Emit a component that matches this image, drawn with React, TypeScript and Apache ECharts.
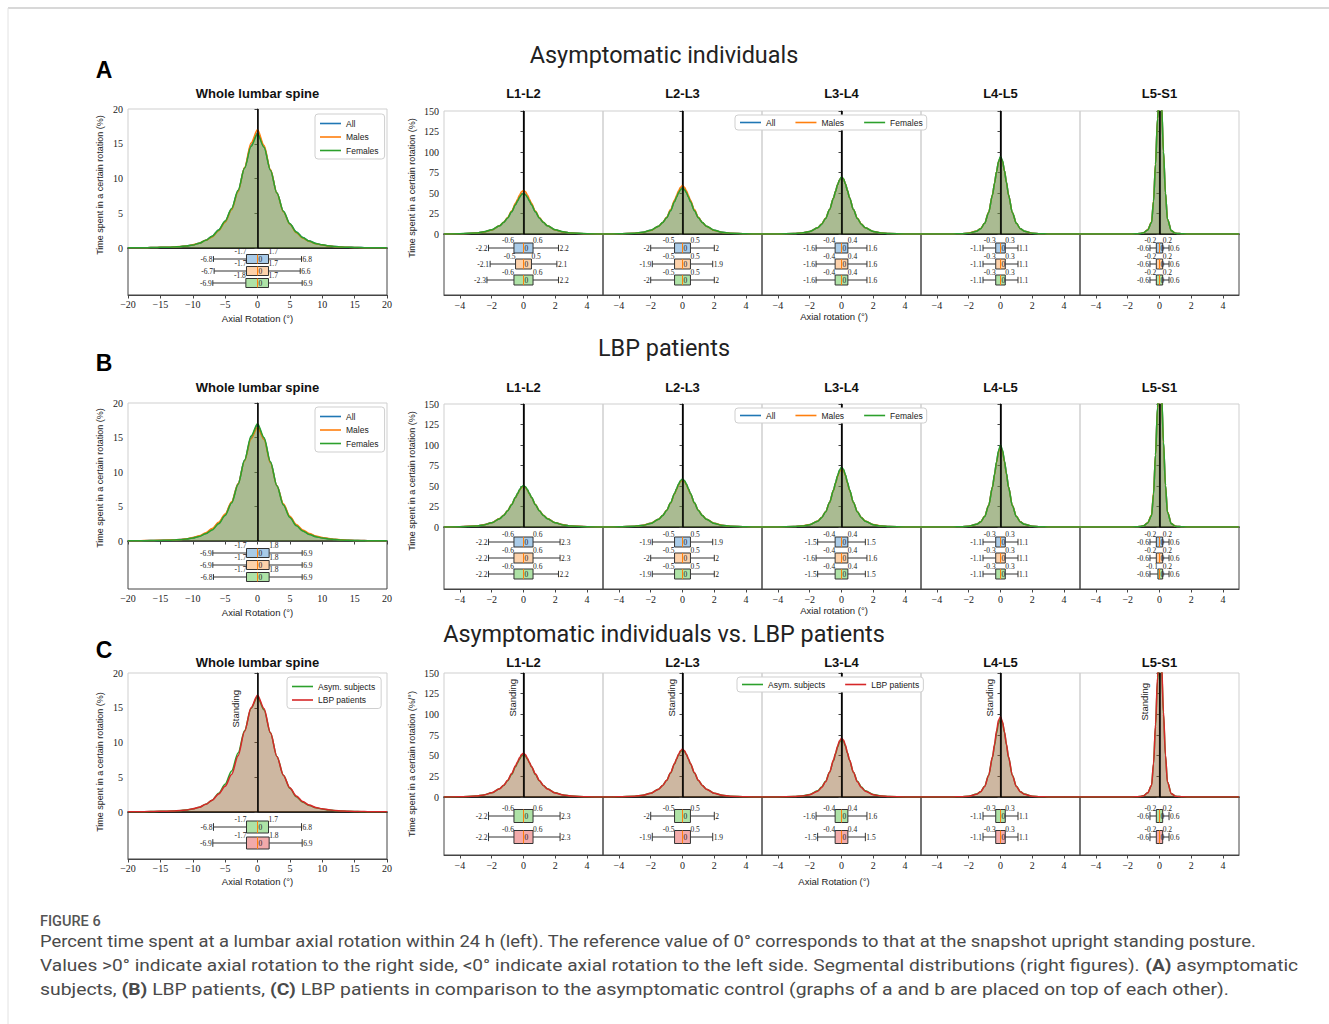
import React, { useEffect, useRef } from "react";
import * as echarts from "echarts";

// ---------------- DATA ----------------
const WHOLE_X = [-20,-19,-18,-17,-16,-15,-14,-13,-12,-11,-10,-9,-8,-7,-6,-5,-4,-3,-2,-1,0,1,2,3,4,5,6,7,8,9,10,11,12,13,14,15,16,17,18,19,20];
const SEG_X = [-5,-4,-3,-2.5,-2,-1.5,-1.25,-1,-0.75,-0.5,-0.375,-0.25,-0.125,0,0.125,0.25,0.375,0.5,0.75,1,1.25,1.5,2,2.5,3,4,5];
const SEG_TICKS = [-4,-2,0,2,4];
const SEG_NAMES = ["L1-L2","L2-L3","L3-L4","L4-L5","L5-S1"];
const GROUPS_AB = ["All","Males","Females"];
const GROUPS_C = ["Asym. subjects","LBP patients"];

// Row A – asymptomatic individuals
const A_WHOLE_ALL = [0.02,0.03,0.04,0.05,0.07,0.09,0.11,0.14,0.19,0.28,0.42,0.68,1.1,1.7,2.6,3.8,5.6,8.2,11.5,14.8,16.6,14.6,11.2,7.9,5.3,3.5,2.3,1.5,1.0,0.65,0.45,0.3,0.2,0.15,0.1,0.08,0.06,0.04,0.03,0.02,0.02];
const A_WHOLE_MALES = [0.02,0.03,0.04,0.05,0.07,0.09,0.11,0.14,0.2,0.3,0.45,0.7,1.1,1.6,2.5,3.7,5.5,8.1,11.6,15.1,17.0,14.8,11.3,7.9,5.2,3.4,2.2,1.4,0.95,0.62,0.42,0.28,0.19,0.14,0.1,0.07,0.05,0.04,0.03,0.02,0.02];
const A_WHOLE_FEMALES = [0.02,0.03,0.04,0.05,0.07,0.09,0.11,0.14,0.19,0.28,0.42,0.7,1.1,1.7,2.6,3.9,5.7,8.3,11.5,14.6,16.4,14.5,11.2,7.9,5.3,3.5,2.3,1.5,1.0,0.66,0.46,0.31,0.21,0.15,0.1,0.08,0.06,0.04,0.03,0.02,0.02];
const A_L1L2_ALL = [0,0.3,1.2,2.5,5,10,14,19.5,27,36,40.5,45,48.5,50,48.5,45,40.5,36,27,19.5,14,10,5,2.5,1.2,0.3,0];
const A_L1L2_MALES = [0,0.3,1.1,2.4,4.9,10,14.2,20,28,37.5,42.5,47.5,51.5,53,51.5,47.5,42.5,37.5,28,20,14.2,10,4.9,2.4,1.1,0.3,0];
const A_L1L2_FEMALES = [0,0.3,1.3,2.6,5.2,10.2,14.2,19.6,27,35.8,40.2,44.6,48,49.5,48,44.6,40.2,35.8,27,19.6,14.2,10.2,5.2,2.6,1.3,0.3,0];
const A_L2L3_ALL = [0,0.2,1,2,4.5,9.5,14,20,29,40,45.5,51,55,57,55,51,45.5,40,29,20,14,9.5,4.5,2,1,0.2,0];
const A_L2L3_MALES = [0,0.2,0.9,1.9,4.4,9.4,14,20.3,29.8,41.2,47,52.8,57,59,57,52.8,47,41.2,29.8,20.3,14,9.4,4.4,1.9,0.9,0.2,0];
const A_L2L3_FEMALES = [0,0.2,1,2.1,4.6,9.6,14,19.8,28.5,39.3,44.8,50.2,54,56,54,50.2,44.8,39.3,28.5,19.8,14,9.6,4.6,2.1,1,0.2,0];
const A_L3L4_ALL = [0,0.1,0.5,1.2,3,7.5,12,19,30,44,52,60,66,69,67,61,53,44.5,30,19,12,7.5,3,1.2,0.5,0.1,0];
const A_L3L4_MALES = [0,0.1,0.5,1.2,3.1,7.6,12.2,19.2,30,44,52,60,66,69,67,61,53,44.5,30,19.2,12.1,7.5,3,1.2,0.5,0.1,0];
const A_L3L4_FEMALES = [0,0.1,0.5,1.2,3,7.5,12,19,30,44,52,60,66,69.5,67.5,61,53,44.5,30,19,12,7.5,3,1.2,0.5,0.1,0];
const A_L4L5_ALL = [0,0,0.1,0.3,1,3.5,6.5,13,26,48,62,76,88,94,89,77,63,48,26,13,6.5,3.5,1,0.3,0.1,0,0];
const A_L4L5_MALES = [0,0,0.1,0.3,1.1,3.6,6.7,13.2,26.5,48,62,76,88,93,88.5,77,63,48,26,13,6.5,3.4,1,0.3,0.1,0,0];
const A_L4L5_FEMALES = [0,0,0.1,0.3,1,3.5,6.5,13,26,48,62,76,88.5,94.5,89.5,77,63,48,26,13,6.5,3.5,1,0.3,0.1,0,0];
const A_L5S1_ALL = [0,0,0,0,0.1,0.2,0.5,1.5,5,14,40,85,140,175,160,100,50,18,4,1,0.5,0.2,0.1,0,0,0,0];
const A_L5S1_MALES = [0,0,0,0,0.1,0.2,0.5,1.6,5.2,14.5,41,86,140,174,159,100,50,18,4,1,0.5,0.2,0.1,0,0,0,0];
const A_L5S1_FEMALES = [0,0,0,0,0.1,0.2,0.5,1.5,5,14,40,85,141,176,161,101,50,18,4,1,0.5,0.2,0.1,0,0,0,0];

// box stats: [min, Q1, median, Q3, max] for All, Males, Females
const A_BOX_WHOLE = [[-6.8,-1.7,0,1.7,6.8],[-6.7,-1.7,0,1.7,6.6],[-6.9,-1.8,0,1.7,6.9]];
const A_BOX_L1L2 = [[-2.2,-0.6,0,0.6,2.2],[-2.1,-0.5,0,0.5,2.1],[-2.3,-0.6,0,0.6,2.2]];
const A_BOX_L2L3 = [[-2,-0.5,0,0.5,2],[-1.9,-0.5,0,0.5,1.9],[-2,-0.5,0,0.5,2]];
const A_BOX_L3L4 = [[-1.6,-0.4,0,0.4,1.6],[-1.6,-0.4,0,0.4,1.6],[-1.6,-0.4,0,0.4,1.6]];
const A_BOX_L4L5 = [[-1.1,-0.3,0,0.3,1.1],[-1.1,-0.3,0,0.3,1.1],[-1.1,-0.3,0,0.3,1.1]];
const A_BOX_L5S1 = [[-0.6,-0.2,0,0.2,0.6],[-0.6,-0.2,0,0.2,0.6],[-0.6,-0.2,0,0.2,0.6]];

// Row B – LBP patients
const B_WHOLE_ALL = [0.02,0.03,0.04,0.06,0.08,0.1,0.12,0.15,0.2,0.3,0.45,0.7,1.1,1.7,2.6,3.8,5.6,8.3,11.7,15.0,16.8,14.9,11.4,8.0,5.3,3.5,2.3,1.5,1.0,0.66,0.46,0.32,0.22,0.16,0.11,0.08,0.06,0.05,0.03,0.02,0.02];
const B_WHOLE_MALES = [0.02,0.03,0.05,0.06,0.09,0.1,0.14,0.16,0.22,0.32,0.5,0.75,1.2,1.8,2.7,3.9,5.7,8.3,11.6,14.8,16.5,14.7,11.3,8.0,5.4,3.6,2.4,1.6,1.1,0.72,0.5,0.35,0.24,0.18,0.12,0.09,0.07,0.05,0.04,0.03,0.02];
const B_WHOLE_FEMALES = [0.02,0.03,0.04,0.05,0.07,0.09,0.11,0.14,0.19,0.28,0.42,0.66,1.05,1.6,2.5,3.7,5.5,8.2,11.7,15.2,17.0,15.0,11.5,8.0,5.2,3.4,2.2,1.45,0.95,0.63,0.43,0.3,0.2,0.14,0.1,0.07,0.05,0.04,0.03,0.02,0.02];
const B_L1L2_ALL = [0,0.3,1.3,2.6,5.2,10.2,14.2,19.8,27.2,36,40.5,45,48.5,50,48.5,45,40.5,36,27.2,19.8,14.2,10.2,5.2,2.6,1.3,0.3,0];
const B_L1L2_MALES = [0,0.3,1.3,2.7,5.3,10.4,14.4,20,27.3,36,40.3,44.7,48,49.5,48,44.7,40.3,36,27.3,20,14.4,10.4,5.3,2.7,1.3,0.3,0];
const B_L1L2_FEMALES = [0,0.3,1.2,2.5,5.1,10.1,14.1,19.7,27.2,36.2,40.8,45.4,49,50.5,49,45.4,40.8,36.2,27.2,19.7,14.1,10.1,5.1,2.5,1.2,0.3,0];
const B_L2L3_ALL = [0,0.2,1,2,4.5,9.5,14,20.2,29.4,40.6,46.2,51.8,56,58,56,51.8,46.2,40.6,29.4,20.2,14,9.5,4.5,2,1,0.2,0];
const B_L2L3_MALES = [0,0.2,1,2.1,4.6,9.6,14.1,20.3,29.3,40.3,45.8,51.3,55.5,57.5,55.5,51.3,45.8,40.3,29.3,20.3,14.1,9.6,4.6,2.1,1,0.2,0];
const B_L2L3_FEMALES = [0,0.2,0.9,1.9,4.4,9.4,13.9,20.1,29.5,40.9,46.6,52.3,56.5,58.5,56.5,52.3,46.6,40.9,29.5,20.1,13.9,9.4,4.4,1.9,0.9,0.2,0];
const B_L3L4_ALL = [0,0.1,0.5,1.1,2.8,7,11.5,18.5,30,45,53.5,62,68.5,72,69.5,63,54,45.5,30,18.5,11.5,7,2.8,1.1,0.5,0.1,0];
const B_L3L4_MALES = [0,0.1,0.5,1.2,2.9,7.2,11.7,18.7,30,45,53,61.5,67.5,71,68.5,62.5,53.5,45,30,18.7,11.7,7.2,2.9,1.2,0.5,0.1,0];
const B_L3L4_FEMALES = [0,0.1,0.5,1.1,2.8,7,11.4,18.4,30,45.2,54,62.5,69.5,73,70.5,63.5,54.5,45.7,30,18.4,11.4,7,2.8,1.1,0.5,0.1,0];
const B_L4L5_ALL = [0,0,0.1,0.3,1,3.3,6.3,12.8,26,49,64,79,92,99,93,80,65,49,26,12.8,6.3,3.3,1,0.3,0.1,0,0];
const B_L4L5_MALES = [0,0,0.1,0.3,1,3.4,6.4,13,26.2,49,63.5,78.5,91,98,92,79.5,64.5,49,26.2,13,6.4,3.4,1,0.3,0.1,0,0];
const B_L4L5_FEMALES = [0,0,0.1,0.3,1,3.3,6.2,12.7,25.8,49,64.5,79.5,93,100,94,80.5,65.5,49,25.8,12.7,6.2,3.3,1,0.3,0.1,0,0];
const B_L5S1_ALL = [0,0,0,0,0.1,0.2,0.5,1.5,5,14,41,88,145,180,165,103,51,18,4,1,0.5,0.2,0.1,0,0,0,0];
const B_L5S1_MALES = [0,0,0,0,0.1,0.2,0.5,1.6,5.2,14.5,42,88,144,178,163,102,51,18.5,4.2,1,0.5,0.2,0.1,0,0,0,0];
const B_L5S1_FEMALES = [0,0,0,0,0.1,0.2,0.5,1.5,4.9,13.8,40,88,146,182,166,104,51,18,4,1,0.5,0.2,0.1,0,0,0,0];

const B_BOX_WHOLE = [[-6.9,-1.7,0,1.8,6.9],[-6.9,-1.7,0,1.8,6.9],[-6.8,-1.7,0,1.8,6.9]];
const B_BOX_L1L2 = [[-2.2,-0.6,0,0.6,2.3],[-2.2,-0.6,0,0.6,2.3],[-2.2,-0.6,0,0.6,2.2]];
const B_BOX_L2L3 = [[-1.9,-0.5,0,0.5,1.9],[-2,-0.5,0,0.5,2],[-1.9,-0.5,0,0.5,2]];
const B_BOX_L3L4 = [[-1.5,-0.4,0,0.4,1.5],[-1.6,-0.4,0,0.4,1.6],[-1.5,-0.4,0,0.4,1.5]];
const B_BOX_L4L5 = [[-1.1,-0.3,0,0.3,1.1],[-1.1,-0.3,0,0.3,1.1],[-1.1,-0.3,0,0.3,1.1]];
const B_BOX_L5S1 = [[-0.6,-0.2,0,0.2,0.6],[-0.6,-0.2,0,0.2,0.6],[-0.6,-0.1,0,0.2,0.6]];

// Row C – asymptomatic vs LBP
const C_WHOLE_ASYM = [0.02,0.03,0.04,0.05,0.07,0.09,0.11,0.14,0.19,0.28,0.42,0.68,1.1,1.7,2.7,4.0,5.9,8.5,11.7,14.9,16.6,14.7,11.4,8.0,5.3,3.4,2.2,1.4,0.95,0.62,0.42,0.28,0.19,0.14,0.1,0.07,0.05,0.04,0.03,0.02,0.02];
const C_WHOLE_LBP = [0.02,0.03,0.04,0.06,0.08,0.1,0.12,0.15,0.2,0.3,0.45,0.7,1.1,1.7,2.6,3.7,5.4,8.1,11.6,15.0,16.8,14.9,11.4,8.0,5.3,3.5,2.3,1.5,1.0,0.66,0.46,0.32,0.22,0.16,0.11,0.08,0.06,0.05,0.03,0.02,0.02];
const C_L1L2_ASYM = [0,0.3,1.2,2.5,5,10,14,19.7,27.3,36.5,41.2,45.8,49.5,51,49.5,45.8,41.2,36.5,27.3,19.7,14,10,5,2.5,1.2,0.3,0];
const C_L1L2_LBP = [0,0.3,1.2,2.5,5.1,10.1,14.2,20.2,28.3,37.7,42.6,47.4,51.3,53,51,46.8,41.8,37,28,20,14,9.8,4.8,2.3,1.1,0.2,0];
const C_L2L3_ASYM = [0,0.2,1,2,4.5,9.5,14,20,29,40,45.5,51,55,57,55,51,45.5,40,29,20,14,9.5,4.5,2,1,0.2,0];
const C_L2L3_LBP = [0,0.2,1,2,4.5,9.5,14,20.2,29.4,40.6,46.2,51.8,56,58,56,51.8,46.2,40.6,29.4,20.2,14,9.5,4.5,2,1,0.2,0];
const C_L3L4_ASYM = [0,0.1,0.5,1.2,3,7.5,12,19,30,44,52,60,66.5,69.5,67.5,61,53,44.5,30,19,12,7.5,3,1.2,0.5,0.1,0];
const C_L3L4_LBP = [0,0.1,0.5,1.1,2.8,7,11.5,18.5,30,45,53,61.5,68,71,69,62.5,53.5,45,30,18.5,11.5,7,2.8,1.1,0.5,0.1,0];
const C_L4L5_ASYM = [0,0,0.1,0.3,1,3.5,6.5,13,26,48,62,77,89,95,90,78,63,48,26,13,6.5,3.5,1,0.3,0.1,0,0];
const C_L4L5_LBP = [0,0,0.1,0.3,1,3.3,6.3,12.8,26,49,64,80,93,97,91,79,64,49,26,12.8,6.3,3.3,1,0.3,0.1,0,0];
const C_L5S1_ASYM = [0,0,0,0,0.1,0.2,0.5,1.5,5,14,40,85,140,175,160,100,50,18,4,1,0.5,0.2,0.1,0,0,0,0];
const C_L5S1_LBP = [0,0,0,0,0.1,0.2,0.5,1.5,5,14,41,88,145,180,165,103,51,18,4,1,0.5,0.2,0.1,0,0,0,0];

const C_BOX_WHOLE = [[-6.8,-1.7,0,1.7,6.8],[-6.9,-1.7,0,1.8,6.9]];
const C_BOX_L1L2 = [[-2.2,-0.6,0,0.6,2.3],[-2.2,-0.6,0,0.6,2.3]];
const C_BOX_L2L3 = [[-2,-0.5,0,0.5,2],[-1.9,-0.5,0,0.5,1.9]];
const C_BOX_L3L4 = [[-1.6,-0.4,0,0.4,1.6],[-1.5,-0.4,0,0.4,1.5]];
const C_BOX_L4L5 = [[-1.1,-0.3,0,0.3,1.1],[-1.1,-0.3,0,0.3,1.1]];
const C_BOX_L5S1 = [[-0.6,-0.2,0,0.2,0.6],[-0.6,-0.2,0,0.2,0.6]];

const CAPTION_TITLE = "FIGURE 6";
const CAPTION_1 = "Percent time spent at a lumbar axial rotation within 24 h (left). The reference value of 0° corresponds to that at the snapshot upright standing posture.";
const CAPTION_2A = "Values >0° indicate axial rotation to the right side, <0° indicate axial rotation to the left side. Segmental distributions (right figures). ";
const CAPTION_2B = " asymptomatic";
const CAPTION_3A = "subjects, ";
const CAPTION_3B = " LBP patients, ";
const CAPTION_3C = " LBP patients in comparison to the asymptomatic control (graphs of a and b are placed on top of each other).";

// ---------------- STYLE / LAYOUT ----------------
const SANS = '"Liberation Sans", Arial, sans-serif';
const SERIF = '"Liberation Serif", "Times New Roman", serif';
const CAP_FONT = 'Roboto, "Noto Sans", sans-serif';
const COL_ALL = "#1f77b4";
const COL_MALES = "#ff7f0e";
const COL_FEMALES = "#2ca02c";
const COL_LBP = "#d62728";
const FILL_BLUE = "#a9cbe8";
const FILL_ORANGE = "#fcd1aa";
const FILL_GREEN = "#aee2a6";
const FILL_RED = "#f2aaaa";

const WHOLE_LEFT = 128, WHOLE_W = 259;
const SEG_LEFT = 444, SEG_W = 159;

const ROWS = [
  {
    letter: "A", main: "Asymptomatic individuals", groups: GROUPS_AB,
    colors: [COL_ALL, COL_MALES, COL_FEMALES], fills: [FILL_BLUE, FILL_ORANGE, FILL_GREEN],
    whole: [A_WHOLE_ALL, A_WHOLE_MALES, A_WHOLE_FEMALES], wholeBox: A_BOX_WHOLE,
    seg: [[A_L1L2_ALL, A_L1L2_MALES, A_L1L2_FEMALES],[A_L2L3_ALL, A_L2L3_MALES, A_L2L3_FEMALES],[A_L3L4_ALL, A_L3L4_MALES, A_L3L4_FEMALES],[A_L4L5_ALL, A_L4L5_MALES, A_L4L5_FEMALES],[A_L5S1_ALL, A_L5S1_MALES, A_L5S1_FEMALES]],
    segBox: [A_BOX_L1L2, A_BOX_L2L3, A_BOX_L3L4, A_BOX_L4L5, A_BOX_L5S1],
    standing: false, segXLabel: "Axial rotation (°)", segYLabel: "Time spent in a certain rotation (%)",
    L: { mainY: 55, letterY: 70, subY: 93, wTop: 109, wZero: 248, wBot: 295, wBox0: 259, wStep: 12, wBoxH: 9,
         sTop: 111, sZero: 234, sBot: 295, sBox0: 248, sStep: 16, sBoxH: 10, wXLabY: 318, sXLabY: 316, wYLabY: 185, sYLabY: 188,
         wLegend: [315, 114], sLegend: [735, 115] },
  },
  {
    letter: "B", main: "LBP patients", groups: GROUPS_AB,
    colors: [COL_ALL, COL_MALES, COL_FEMALES], fills: [FILL_BLUE, FILL_ORANGE, FILL_GREEN],
    whole: [B_WHOLE_ALL, B_WHOLE_MALES, B_WHOLE_FEMALES], wholeBox: B_BOX_WHOLE,
    seg: [[B_L1L2_ALL, B_L1L2_MALES, B_L1L2_FEMALES],[B_L2L3_ALL, B_L2L3_MALES, B_L2L3_FEMALES],[B_L3L4_ALL, B_L3L4_MALES, B_L3L4_FEMALES],[B_L4L5_ALL, B_L4L5_MALES, B_L4L5_FEMALES],[B_L5S1_ALL, B_L5S1_MALES, B_L5S1_FEMALES]],
    segBox: [B_BOX_L1L2, B_BOX_L2L3, B_BOX_L3L4, B_BOX_L4L5, B_BOX_L5S1],
    standing: false, segXLabel: "Axial rotation (°)", segYLabel: "Time spent in a certain rotation (%)",
    L: { mainY: 348, letterY: 363, subY: 387, wTop: 403, wZero: 541, wBot: 589, wBox0: 553, wStep: 12, wBoxH: 9,
         sTop: 404, sZero: 527, sBot: 589, sBox0: 542, sStep: 16, sBoxH: 10, wXLabY: 612, sXLabY: 610, wYLabY: 478, sYLabY: 481,
         wLegend: [315, 407], sLegend: [735, 408] },
  },
  {
    letter: "C", main: "Asymptomatic individuals vs. LBP patients", groups: GROUPS_C,
    colors: [COL_FEMALES, COL_LBP], fills: [FILL_GREEN, FILL_RED],
    whole: [C_WHOLE_ASYM, C_WHOLE_LBP], wholeBox: C_BOX_WHOLE,
    seg: [[C_L1L2_ASYM, C_L1L2_LBP],[C_L2L3_ASYM, C_L2L3_LBP],[C_L3L4_ASYM, C_L3L4_LBP],[C_L4L5_ASYM, C_L4L5_LBP],[C_L5S1_ASYM, C_L5S1_LBP]],
    segBox: [C_BOX_L1L2, C_BOX_L2L3, C_BOX_L3L4, C_BOX_L4L5, C_BOX_L5S1],
    standing: true, segXLabel: "Axial Rotation (°)", segYLabel: "Time spent in a certain rotation (%/°)",
    L: { mainY: 634, letterY: 650, subY: 662, wTop: 673, wZero: 812, wBot: 859, wBox0: 827, wStep: 16, wBoxH: 12,
         sTop: 673, sZero: 797, sBot: 855, sBox0: 816, sStep: 21, sBoxH: 13, wXLabY: 881, sXLabY: 881, wYLabY: 762, sYLabY: 764,
         wLegend: [287, 677], sLegend: [737, 677] },
  },
];

const fmtMinus = (v: number) => (v < 0 ? "\u2212" + Math.abs(v) : String(v));

function boxRenderer(boxH: number, fills: string[]) {
  return (params: any, api: any) => {
    const row = api.value(0);
    const vals = [api.value(1), api.value(2), api.value(3), api.value(4), api.value(5)];
    const fill = fills[api.value(6)];
    const p = vals.map((v) => api.coord([v, row]));
    const y = p[0][1];
    const h = boxH;
    const cap = h * 0.32;
    const lbl = '7.5px ' + SERIF;
    const stroke = { stroke: "#333", lineWidth: 1 };
    return {
      type: "group",
      children: [
        { type: "line", shape: { x1: p[0][0], y1: y, x2: p[1][0], y2: y }, style: stroke },
        { type: "line", shape: { x1: p[3][0], y1: y, x2: p[4][0], y2: y }, style: stroke },
        { type: "line", shape: { x1: p[0][0], y1: y - cap, x2: p[0][0], y2: y + cap }, style: stroke },
        { type: "line", shape: { x1: p[4][0], y1: y - cap, x2: p[4][0], y2: y + cap }, style: stroke },
        { type: "rect", shape: { x: p[1][0], y: y - h / 2, width: p[3][0] - p[1][0], height: h }, style: { fill, stroke: "#333", lineWidth: 1 } },
        { type: "line", shape: { x1: p[2][0], y1: y - h / 2, x2: p[2][0], y2: y + h / 2 }, style: { stroke: "#ff7f0e", lineWidth: 1 } },
        { type: "text", x: p[0][0] - 1, y: y + 0.5, style: { text: String(vals[0]), font: lbl, fill: "#222", align: "right", verticalAlign: "middle" } },
        { type: "text", x: p[4][0] + 1, y: y + 0.5, style: { text: String(vals[4]), font: lbl, fill: "#222", align: "left", verticalAlign: "middle" } },
        { type: "text", x: p[1][0], y: y - 3.8, style: { text: String(vals[1]), font: lbl, fill: "#222", align: "right", verticalAlign: "bottom" } },
        { type: "text", x: p[3][0], y: y - 3.8, style: { text: String(vals[3]), font: lbl, fill: "#222", align: "left", verticalAlign: "bottom" } },
        { type: "text", x: p[2][0] + 1, y, style: { text: String(vals[2]), font: lbl, fill: "#222", align: "left", verticalAlign: "middle" } },
      ],
    };
  };
}

function buildOption() {
  const grid: any[] = [], xAxis: any[] = [], yAxis: any[] = [], series: any[] = [], legend: any[] = [], graphic: any[] = [];
  const addPanel = (left: number, width: number, top: number, height: number, border: string) => {
    grid.push({ left, top, width, height, show: true, borderColor: border, borderWidth: 1, containLabel: false });
    return grid.length - 1;
  };
  const lineSeries = (name: string, xs: number[], ys: number[], color: string, gi: number, z: number) => ({
    type: "line", name, xAxisIndex: gi, yAxisIndex: gi, data: xs.map((x, i) => [x, ys[i]]),
    showSymbol: false, symbol: "none", smooth: 0.3, smoothMonotone: "x", silent: true, z,
    lineStyle: { color, width: 1.5 }, itemStyle: { color }, areaStyle: { color, opacity: 0.25 },
  });
  const zeroLine = (standing: boolean, dist: number) => ({
    silent: true, symbol: ["none", "none"], animation: false,
    lineStyle: { color: "#000", width: 1.5, type: "solid" },
    label: { show: standing, formatter: "Standing", position: "insideEndTop", fontSize: 9.5, fontFamily: SANS, color: "#222", distance: dist },
    data: [{ xAxis: 0 }],
  });
  const boxSeries = (boxes: number[][], gi: number, boxH: number, fills: string[]) => ({
    type: "custom", xAxisIndex: gi, yAxisIndex: gi, silent: true, clip: false, z: 5,
    data: boxes.map((b, i) => [i + 1, b[0], b[1], b[2], b[3], b[4], i]),
    renderItem: boxRenderer(boxH, fills),
  });
  const legendCommon = {
    icon: "rect", itemWidth: 21, itemHeight: 1.6, selectedMode: false, backgroundColor: "#fff",
    borderColor: "#cfcfcf", borderWidth: 1, borderRadius: 3, z: 30,
    textStyle: { fontSize: 8.5, fontFamily: SANS, color: "#222" },
  };

  ROWS.forEach((R) => {
    const L = R.L;
    // ---- whole lumbar spine: upper KDE ----
    const gU = addPanel(WHOLE_LEFT, WHOLE_W, L.wTop, L.wZero - L.wTop, "#cfcfcf");
    xAxis.push({ gridIndex: gU, type: "value", min: -20, max: 20, interval: 5, axisLabel: { show: false }, axisTick: { show: false }, splitLine: { show: false }, axisLine: { show: true, onZero: false, lineStyle: { color: "#000", width: 1.5 } } });
    yAxis.push({ gridIndex: gU, type: "value", min: 0, max: 20, interval: 5, splitLine: { show: false },
      axisLine: { show: true, lineStyle: { color: "#444" } }, axisTick: { show: true, length: 3, lineStyle: { color: "#444" } },
      axisLabel: { fontFamily: SERIF, fontSize: 10, color: "#222", margin: 5 } });
    R.whole.forEach((ys, k) => {
      const s: any = lineSeries(R.groups[k], WHOLE_X, ys, R.colors[k], gU, 2 + k);
      if (k === R.whole.length - 1) s.markLine = zeroLine(R.standing, 17);
      series.push(s);
    });
    // ---- whole lumbar spine: lower boxplots ----
    const gL = addPanel(WHOLE_LEFT, WHOLE_W, L.wZero, L.wBot - L.wZero, "#444");
    const wa = 1 - (L.wBox0 - L.wZero) / L.wStep;
    xAxis.push({ gridIndex: gL, type: "value", min: -20, max: 20, interval: 5, splitLine: { show: false },
      axisLine: { show: true, lineStyle: { color: "#444" } }, axisTick: { show: true, length: 3.5, lineStyle: { color: "#444" } },
      axisLabel: { fontFamily: SERIF, fontSize: 10, color: "#222", margin: 4, formatter: fmtMinus } });
    yAxis.push({ gridIndex: gL, type: "value", show: false, inverse: true, min: wa, max: wa + (L.wBot - L.wZero) / L.wStep });
    series.push(boxSeries(R.wholeBox, gL, L.wBoxH, R.fills));

    // ---- segments ----
    SEG_NAMES.forEach((name, si) => {
      const left = SEG_LEFT + si * SEG_W;
      const sU = addPanel(left, SEG_W, L.sTop, L.sZero - L.sTop, "#cfcfcf");
      xAxis.push({ gridIndex: sU, type: "value", min: -5, max: 5, axisLabel: { show: false }, axisTick: { show: false }, splitLine: { show: false }, axisLine: { show: true, onZero: false, lineStyle: { color: "#000", width: 1.5 } } });
      yAxis.push({ gridIndex: sU, type: "value", min: 0, max: 150, interval: 25, splitLine: { show: false },
        axisLine: { show: true, lineStyle: { color: "#111", width: 1.2 } }, axisTick: { show: true, length: 3, lineStyle: { color: "#444" } },
        axisLabel: { show: si === 0, fontFamily: SERIF, fontSize: 10, color: "#222", margin: 5 } });
      R.seg[si].forEach((ys, k) => {
        const s: any = lineSeries(R.groups[k], SEG_X, ys, R.colors[k], sU, 2 + k);
        if (k === R.seg[si].length - 1) s.markLine = zeroLine(R.standing && si !== 2, si === 4 ? 10 : 6);
        series.push(s);
      });
      const sL = addPanel(left, SEG_W, L.sZero, L.sBot - L.sZero, "#444");
      const sa = 1 - (L.sBox0 - L.sZero) / L.sStep;
      xAxis.push({ gridIndex: sL, type: "value", min: -5, max: 5, splitLine: { show: false },
        axisLine: { show: true, lineStyle: { color: "#444" } },
        axisTick: { show: true, length: 3.5, lineStyle: { color: "#444" }, customValues: SEG_TICKS },
        axisLabel: { fontFamily: SERIF, fontSize: 10, color: "#222", margin: 5, formatter: fmtMinus, customValues: SEG_TICKS } });
      yAxis.push({ gridIndex: sL, type: "value", show: false, inverse: true, min: sa, max: sa + (L.sBot - L.sZero) / L.sStep });
      series.push(boxSeries(R.segBox[si], sL, L.sBoxH, R.fills));

      graphic.push({ type: "text", x: left + SEG_W / 2, y: L.subY, style: { text: name, font: "bold 13px " + SANS, fill: "#111", align: "center", verticalAlign: "middle" } });
    });

    // ---- legends ----
    legend.push({ ...legendCommon, data: R.groups, orient: "vertical", left: L.wLegend[0], top: L.wLegend[1], itemGap: 4.5, padding: [5, 6, 4, 5] });
    legend.push({ ...legendCommon, data: R.groups, orient: "horizontal", left: L.sLegend[0], top: L.sLegend[1], itemGap: 20, padding: [3, 4, 3, 5] });

    // ---- texts ----
    graphic.push({ type: "text", x: 664, y: L.mainY, style: { text: R.main, font: "23.4px " + CAP_FONT, fill: "#222", align: "center", verticalAlign: "middle" } });
    graphic.push({ type: "text", x: 104, y: L.letterY, style: { text: R.letter, font: "bold 23px " + SANS, fill: "#000", align: "center", verticalAlign: "middle" } });
    graphic.push({ type: "text", x: WHOLE_LEFT + WHOLE_W / 2, y: L.subY, style: { text: "Whole lumbar spine", font: "bold 13px " + SANS, fill: "#111", align: "center", verticalAlign: "middle" } });
    graphic.push({ type: "text", x: WHOLE_LEFT + WHOLE_W / 2, y: L.wXLabY, style: { text: "Axial Rotation (°)", font: "9.5px " + SANS, fill: "#222", align: "center", verticalAlign: "middle" } });
    graphic.push({ type: "text", x: 834, y: L.sXLabY, style: { text: R.segXLabel, font: "9.5px " + SANS, fill: "#222", align: "center", verticalAlign: "middle" } });
    graphic.push({ type: "text", x: 100, y: L.wYLabY, rotation: Math.PI / 2, style: { text: "Time spent in a certain rotation (%)", font: "9px " + SANS, fill: "#222", align: "center", verticalAlign: "middle" } });
    graphic.push({ type: "text", x: 412, y: L.sYLabY, rotation: Math.PI / 2, style: { text: R.segYLabel, font: "9px " + SANS, fill: "#222", align: "center", verticalAlign: "middle" } });
  });

  // frame + caption
  graphic.push({ type: "line", shape: { x1: 8, y1: 8, x2: 1329, y2: 8 }, style: { stroke: "#d8d8d8", lineWidth: 2 } });
  graphic.push({ type: "line", shape: { x1: 8, y1: 8, x2: 8, y2: 1024 }, style: { stroke: "#e2e2e2", lineWidth: 1 } });
  const capStyle = { fontSize: 17, fontFamily: CAP_FONT, fill: "#4a4a4a" };
  const capBold = { fontSize: 17, fontFamily: CAP_FONT, fontWeight: "bold", fill: "#4a4a4a" };
  graphic.push({ type: "text", x: 40, y: 921, style: { text: CAPTION_TITLE, font: "500 14.5px " + CAP_FONT, fill: "#555", verticalAlign: "middle" } });
  graphic.push({ type: "text", x: 40, y: 941, scaleX: 1.081, style: { text: CAPTION_1, ...capStyle, verticalAlign: "middle" } });
  graphic.push({ type: "text", x: 40, y: 965, scaleX: 1.125, style: { text: "{n|" + CAPTION_2A + "}{b|(A)}{n|" + CAPTION_2B + "}", verticalAlign: "middle", rich: { n: capStyle, b: capBold } } });
  graphic.push({ type: "text", x: 40, y: 989, scaleX: 1.138, style: { text: "{n|" + CAPTION_3A + "}{b|(B)}{n|" + CAPTION_3B + "}{b|(C)}{n|" + CAPTION_3C + "}", verticalAlign: "middle", rich: { n: capStyle, b: capBold } } });

  return { animation: false, backgroundColor: "#fff", grid, xAxis, yAxis, series, legend, graphic };
}

export default function App() {
  const ref = useRef<HTMLDivElement>(null);
  useEffect(() => {
    document.body.style.margin = "0";
    const chart = echarts.init(ref.current!, undefined, { renderer: "svg" });
    chart.setOption(buildOption() as any);
    return () => chart.dispose();
  }, []);
  return <div ref={ref} style={{ width: 1329, height: 1024 }} />;
}
